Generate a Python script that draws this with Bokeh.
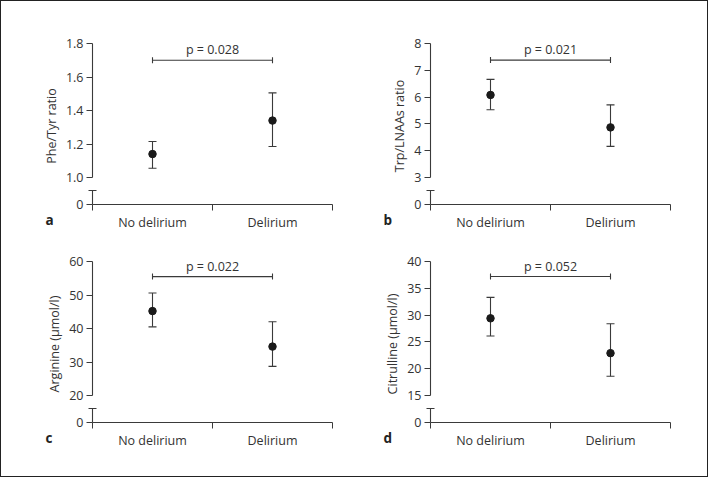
from bokeh.plotting import figure
from bokeh.layouts import column, row
from bokeh.models import Range1d, FixedTicker, CustomJSTickFormatter, Title, ColumnDataSource
from bokeh.core.properties import value
from bokeh.embed import file_html
from bokeh.resources import INLINE

# ---- data ----
groups = ["No delirium", "Delirium"]
group_x = [0.5, 1.5]

phe_mean = [1.14, 1.34]
phe_low = [1.055, 1.185]
phe_high = [1.215, 1.505]

trp_mean = [6.08, 4.87]
trp_low = [5.53, 4.16]
trp_high = [6.66, 5.71]

arg_mean = [45.2, 34.6]
arg_low = [40.5, 28.7]
arg_high = [50.6, 42.0]

cit_mean = [29.4, 22.9]
cit_low = [26.1, 18.6]
cit_high = [33.3, 28.4]

phe_ticks = [1.0, 1.2, 1.4, 1.6, 1.8]
trp_ticks = [3, 4, 5, 6, 7, 8]
arg_ticks = [20, 30, 40, 50, 60]
cit_ticks = [15, 20, 25, 30, 35, 40]

p_values = ["p = 0.028", "p = 0.021", "p = 0.022", "p = 0.052"]
bracket_y = [1.70, 7.38, 55.5, 37.2]
y_labels = ["Phe/Tyr ratio", "Trp/LNAAs ratio", "Arginine (\u00b5mol/l)", "Citrulline (\u00b5mol/l)"]
panel_letters = ["a", "b", "c", "d"]

FONT = "Open Sans"
FS = "12.5px"
TXT = "#333333"
AX = "#3a3a3a"
DOT = "#1a1a1a"

UPPER_PX = 134
ZERO_GAP = 27
CAP_GAP = 13
TICK = 6


def panel(mean, low, high, ticks, decimals, ptext, by, ylab, letter,
          width, height, bl, br, bt, bb):
    lo, hi = ticks[0], ticks[-1]
    ppu = UPPER_PX / (hi - lo)
    zero = lo - ZERO_GAP / ppu
    cap = lo - CAP_GAP / ppu
    ppx = 240 / 2.0
    x_range = Range1d(-TICK / ppx, 2 + 2 / ppx)
    y_range = Range1d(zero - TICK / ppu, hi + 2 / ppu)
    p = figure(width=width, height=height, x_range=x_range, y_range=y_range,
               output_backend="svg", toolbar_location=None,
               min_border_left=bl, min_border_right=br,
               min_border_top=bt, min_border_bottom=bb)
    p.outline_line_color = None
    p.grid.visible = False

    ya = p.yaxis[0]
    ya.ticker = FixedTicker(ticks=[zero] + list(ticks), minor_ticks=[])
    ya.formatter = CustomJSTickFormatter(
        args=dict(lo=lo, d=decimals),
        code="return tick < lo - 1e-9 ? '0' : tick.toFixed(d);")
    ya.axis_line_color = None
    ya.major_tick_in = TICK
    ya.major_tick_out = 0
    ya.minor_tick_in = 0
    ya.minor_tick_out = 0
    ya.major_tick_line_color = AX
    ya.major_label_standoff = 3
    ya.major_label_text_font = FONT
    ya.major_label_text_font_size = FS
    ya.major_label_text_color = TXT
    ya.axis_label = ylab
    ya.axis_label_text_font = FONT
    ya.axis_label_text_font_size = FS
    ya.axis_label_text_font_style = "normal"
    ya.axis_label_text_color = TXT
    ya.axis_label_standoff = 3

    xa = p.xaxis[0]
    xa.ticker = FixedTicker(ticks=group_x, minor_ticks=[0, 1, 2])
    xa.major_label_overrides = {0.5: groups[0], 1.5: groups[1]}
    xa.axis_line_color = None
    xa.major_tick_in = 0
    xa.major_tick_out = 0
    xa.minor_tick_in = TICK
    xa.minor_tick_out = 0
    xa.minor_tick_line_color = AX
    xa.major_label_standoff = 3
    xa.major_label_text_font = FONT
    xa.major_label_text_font_size = FS
    xa.major_label_text_color = TXT

    capw = 4 / ppx
    p.segment(x0=[0, 0, -capw, 0], y0=[lo, zero, cap, zero],
              x1=[0, 0, capw, 2], y1=[hi, cap, cap, zero],
              line_color=AX, line_width=1.1)

    src = ColumnDataSource(dict(x=group_x, m=mean, lo=low, hi=high))
    p.segment(x0="x", y0="lo", x1="x", y1="hi", source=src, line_color=AX, line_width=1.1)
    w = 4 / ppx
    p.segment(x0=[x - w for x in group_x] * 2, y0=list(low) + list(high),
              x1=[x + w for x in group_x] * 2, y1=list(low) + list(high),
              line_color=AX, line_width=1.1)
    p.scatter(x="x", y="m", source=src, size=7.5, color=DOT)

    hb = 3 / ppu
    p.segment(x0=[group_x[0], group_x[0], group_x[1]], y0=[by, by - hb, by - hb],
              x1=[group_x[1], group_x[0], group_x[1]], y1=[by, by + hb, by + hb],
              line_color=AX, line_width=1.1)
    p.text(x=[1.0], y=[by + 10.5 / ppu], text=[ptext], text_align="center", text_baseline="middle",
           text_font=value(FONT), text_font_size=FS, text_color=TXT)

    p.add_layout(Title(text=letter, align="left", vertical_align="top", offset=-41, standoff=-45,
                       text_font=FONT, text_font_size="13.5px", text_font_style="bold",
                       text_color="#222222"), "below")
    return p


pa = panel(phe_mean, phe_low, phe_high, phe_ticks, 1, p_values[0], bracket_y[0], y_labels[0],
           panel_letters[0], 338, 237, 85, 5, 40, 28)
pb = panel(trp_mean, trp_low, trp_high, trp_ticks, 0, p_values[1], bracket_y[1], y_labels[1],
           panel_letters[1], 368, 237, 85, 35, 40, 28)
pc = panel(arg_mean, arg_low, arg_high, arg_ticks, 0, p_values[2], bracket_y[2], y_labels[2],
           panel_letters[2], 338, 238, 85, 5, 21, 48)
pd_ = panel(cit_mean, cit_low, cit_high, cit_ticks, 0, p_values[3], bracket_y[3], y_labels[3],
            panel_letters[3], 368, 238, 85, 35, 21, 48)

layout = column(row(pa, pb), row(pc, pd_),
                styles={"border": "1px solid #222222", "width": "fit-content"})

open("out.html", "w").write(file_html(layout, INLINE))
